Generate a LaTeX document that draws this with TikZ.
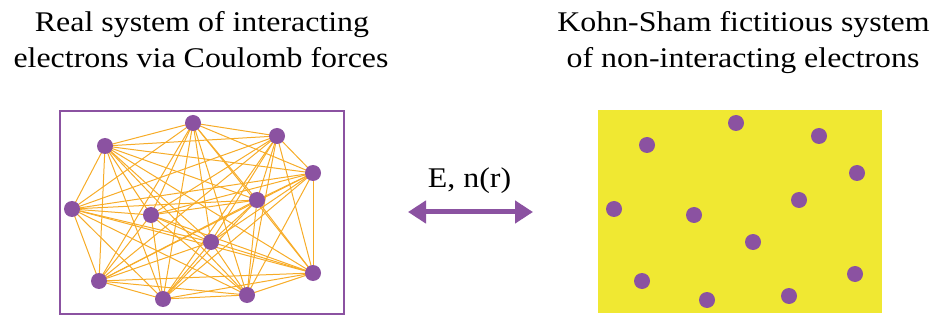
\documentclass[tikz,border=0pt]{standalone}
\usepackage{fontspec}
\setmainfont{Liberation Serif}
\newfontfamily\widetitle[FakeStretch=1.12]{Liberation Serif}
\usetikzlibrary{arrows.meta}
\definecolor{elec}{RGB}{139,82,161}
\definecolor{bond}{RGB}{247,172,40}
\definecolor{ksyellow}{RGB}{240,232,50}
\tikzset{
  electron/.style={circle,fill=elec,draw=none,minimum size=16pt,inner sep=0pt},
  bondline/.style={draw=bond,line width=1pt},
  title/.style={anchor=base,font=\widetitle\fontsize{28.5}{34}\selectfont,inner sep=0pt},
}
\begin{document}
\begin{tikzpicture}[x=1pt,y=-1pt]
\useasboundingbox (0,0) rectangle (941,320);
% titles
\node[title] (t1a) at (202,32) {Real system of interacting};
\node[title] (t1b) at (201,68) {electrons via Coulomb forces};
\node[title] (t2a) at (743.5,32) {Kohn-Sham fictitious system};
\node[title] (t2b) at (743,68) {of non-interacting electrons};
% left box
\node[draw=elec,line width=2pt,minimum width=284pt,minimum height=203pt,anchor=north west,inner sep=0pt] (lbox) at (59,110) {};
\foreach \i/\x/\y in {1/105/146,2/193/123,3/277/136,4/313/173,5/72/209,6/151/215,7/257/200,8/211/242,9/99/281,10/163/299,11/247/295,12/313/273}
  \coordinate (c\i) at (\x,\y);
\foreach \i in {1,...,12}{
  \foreach \j in {1,...,12}{
    \ifnum\i<\j \draw[bondline] (c\i) -- (c\j); \fi
  }
}
\foreach \i in {1,...,12}
  \node[electron] (e\i) at (c\i) {};
% right box
\node[fill=ksyellow,draw=none,minimum width=284pt,minimum height=203pt,anchor=north west,inner sep=0pt] (rbox) at (598,110) {};
\foreach \i/\x/\y in {1/647/145,2/736/123,3/819/136,4/857/173,5/614/209,6/694/215,7/799/200,8/753/242,9/642/281,10/707/300,11/789/296,12/855/274}
  \node[electron] (k\i) at (\x,\y) {};
% arrow
\coordinate (al) at (408,212);
\coordinate (ar) at (533,212);
\draw[elec,line width=5pt,{Triangle[length=18pt,width=22pt]}-{Triangle[length=18pt,width=22pt]}] (al) -- (ar);
\node[title] (lab) at (469.5,188) {E, n(r)};
\end{tikzpicture}
\end{document}
